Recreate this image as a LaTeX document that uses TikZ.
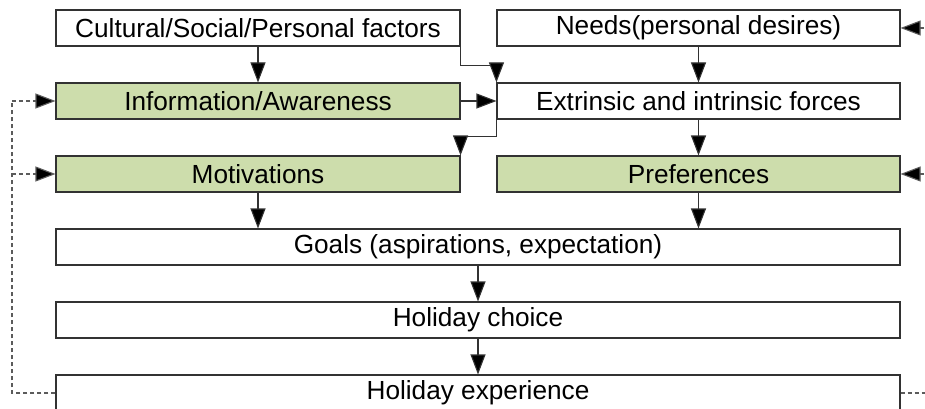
\documentclass[tikz,border=0pt]{standalone}
\usepackage{fontspec}
\setmainfont{Liberation Sans}
\usetikzlibrary{arrows.meta,calc}
\definecolor{boxgreen}{RGB}{205,221,172}
\definecolor{edge}{RGB}{50,50,50}
\begin{document}
\begin{tikzpicture}[x=1pt,y=-1pt,
  box/.style={draw=edge, line width=1.1pt, minimum height=36pt, inner sep=0pt,
    font=\fontsize{26.2}{30}\selectfont},
  halfbox/.style={box, minimum width=404pt},
  fullbox/.style={box, minimum width=844pt},
  green/.style={fill=boxgreen},
  arr/.style={draw=edge, line width=1.1pt, -{Triangle[length=20pt,width=15pt,fill=black]}},
  fb/.style={draw=edge!80, line width=1.1pt, dash pattern=on 4pt off 3pt},
  fbarr/.style={fb, -{Triangle[length=20pt,width=15pt,fill=black]}}]
\useasboundingbox (0,0) rectangle (925,409);
\clip (0,0) rectangle (925,409);
\node[halfbox] (cult) at (258,28) {Cultural/Social/Personal factors};
\node[halfbox, minimum width=403pt] (needs) at (698.5,28) {Needs(personal desires)};
\node[halfbox, green] (info) at (258,101) {Information/Awareness};
\node[halfbox, minimum width=403pt] (extr) at (698.5,101) {Extrinsic and intrinsic forces};
\node[halfbox, green] (motiv) at (258,174) {Motivations};
\node[halfbox, green, minimum width=403pt] (pref) at (698.5,174) {Preferences};
\node[fullbox] (goals) at (478,247) {Goals (aspirations, expectation)};
\node[fullbox] (choice) at (478,320) {Holiday choice};
\node[fullbox] (exp) at (478,393) {Holiday experience};
\coordinate (L) at (12,101);
\coordinate (R) at (945,0);
% connectors
\draw[arr] (cult.south) -- (info.north);
\draw[arr] (cult.south east) -- ++(0,19) -| (extr.north west);
\draw[arr] (info.east) -- (extr.west);
\draw[arr] (extr.south west) -- ++(0,17) -| (motiv.north east);
\draw[arr] (needs.south) -- (extr.north);
\draw[arr] (extr.south) -- (pref.north);
\draw[arr] (motiv.south) -- (motiv.south |- goals.north);
\draw[arr] (pref.south) -- (pref.south |- goals.north);
\draw[arr] (goals.south) -- (choice.north);
\draw[arr] (choice.south) -- (exp.north);
% feedback
\draw[fb] (exp.west) -| (L);
\draw[fbarr] (L) -- (info.west);
\draw[fbarr] (L |- motiv.west) -- (motiv.west);
\draw[fb] (exp.east) -- (exp.east -| R);
\draw[fbarr] (needs.east -| R) -- (needs.east);
\draw[fbarr] (pref.east -| R) -- (pref.east);
\end{tikzpicture}
\end{document}
